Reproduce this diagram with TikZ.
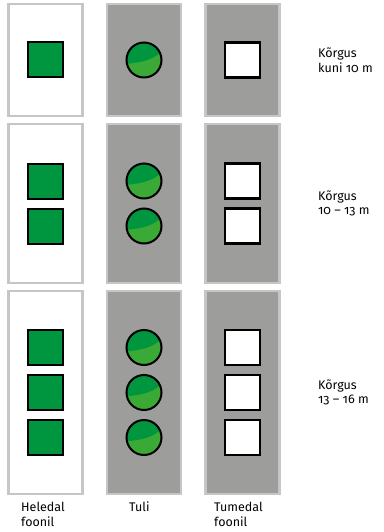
\documentclass[tikz,border=0pt]{standalone}
\usepackage{fontspec}
\setmainfont[RawFeature=+onum]{Fira Sans}
\definecolor{panelgray}{HTML}{9D9D9C}
\definecolor{rimgray}{HTML}{C6C6C6}
\definecolor{lampgreen}{HTML}{009640}
\definecolor{glowgreen}{HTML}{3AA935}

\begin{document}
\begin{tikzpicture}[x=1pt, y=-1pt,
	lightpanel/.style={draw=rimgray, line width=2.5pt, fill=white},
	darkpanel/.style={draw=rimgray, line width=2.5pt, fill=panelgray},
	greenlamp/.style={draw=black, line width=2pt, fill=lampgreen},
	whitelamp/.style={draw=black, line width=2.4pt, fill=white},
	rowlabel/.style={align=left, font=\fontsize{12.5}{14.5}\selectfont, inner sep=0pt},
	collabel/.style={align=left, font=\fontsize{12.5}{15}\selectfont, inner sep=0pt}]
	\useasboundingbox (0,0) rectangle (383,532);
	
	% panels and lamps, one row per height class
	\foreach \n/\ytop/\ybot in {1/4/116, 2/124/283, 3/291/494} {
		\pgfmathsetmacro\ymid{(\ytop+\ybot)/2}
		\draw[lightpanel] (8.5,\ytop) rectangle (82.5,\ybot);
		\draw[darkpanel] (107,\ytop) rectangle (181,\ybot);
		\draw[darkpanel] (205.5,\ytop) rectangle (279.5,\ybot);
		\foreach \k in {1,...,\n} {
			\pgfmathsetmacro\ly{\ymid+45*(\k-(\n+1)/2)}
			\draw[greenlamp] (45.5,\ly) ++(-17.5,-17.5) rectangle ++(35,35);
			\draw[whitelamp] (242.5,\ly) ++(-17.5,-17.5) rectangle ++(35,35);
			\begin{scope}[shift={(144,\ly)}]
				\fill[glowgreen] (0,0) circle (17.5);
				\begin{scope}
					\clip (0,0) circle (17.5);
					\fill[lampgreen] (-19,4) .. controls (2,2) and (10,-1) .. (19,-10) -- (19,-19) -- (-19,-19) -- cycle;
				\end{scope}
				\draw[line width=2pt] (0,0) circle (17.5);
			\end{scope}
		}
	}
	
	\node[rowlabel, anchor=west] (low) at (318,60) {Kõrgus\\kuni 10 m};
	\node[rowlabel, anchor=west] (mid) at (318,203.5) {Kõrgus\\10 – 13 m};
	\node[rowlabel, anchor=west] (high) at (318,392.5) {Kõrgus\\13 – 16 m};
	
	\node[collabel, anchor=north west] (light) at (21,502) {Heledal\\foonil};
	\node[collabel, anchor=north west] (lamp) at (129,502) {Tuli};
	\node[collabel, anchor=north west] (dark) at (214,502) {Tumedal\\foonil};
\end{tikzpicture}
\end{document}
